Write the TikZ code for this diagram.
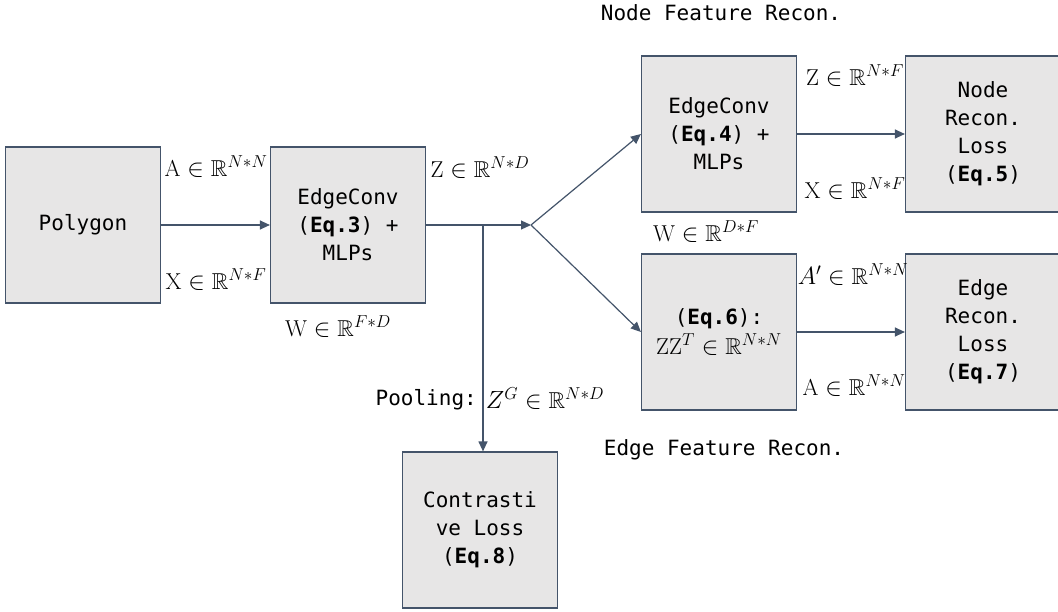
\documentclass[tikz,border=0pt]{standalone}
\usepackage{fontspec}
\setmonofont{DejaVu Sans Mono}
\usepackage{amssymb}
\usetikzlibrary{arrows.meta}
\definecolor{edgec}{HTML}{44546A}
\definecolor{boxfill}{HTML}{E7E6E6}
\begin{document}
\begin{tikzpicture}[x=1pt,y=-1pt,
  box/.style={draw=edgec, line width=1.2pt, fill=boxfill, minimum width=155pt, minimum height=156pt, inner sep=0pt, align=center, font=\ttfamily\fontsize{21}{28}\selectfont},
  arr/.style={draw=edgec, line width=1.2pt, -{Triangle[length=10pt,width=9pt]}},
  lab/.style={font=\fontsize{23}{26}\selectfont, inner sep=0pt},
  ttl/.style={font=\ttfamily\fontsize{21}{24}\selectfont, inner sep=0pt}]
\useasboundingbox[fill=white] (0,0) rectangle (1058,612);

\node[box] (poly) at (83,225) {Polygon};
\node[box] (e1) at (348,225) {EdgeConv\\(\textbf{Eq.3}) +\\MLPs};
\node[box] (e2) at (719,134) {EdgeConv\\(\textbf{Eq.4}) +\\MLPs};
\node[box] (nl) at (983,134) {Node\\Recon.\\Loss\\(\textbf{Eq.5})};
\node[box] (e6) at (719,332) {(\textbf{Eq.6}):\\[2pt]\fontsize{23}{26}\selectfont$\mathrm{ZZ}^{T}\in\mathbb{R}^{N*N}$};
\node[box] (el) at (983,332) {Edge\\Recon.\\Loss\\(\textbf{Eq.7})};
\node[box] (cl) at (480,530) {Contrasti\\ve Loss\\(\textbf{Eq.8})};

\node[lab] (la) at (216,167) {$\mathrm{A}\in\mathbb{R}^{N*N}$};
\node[lab] (lx) at (216,280) {$\mathrm{X}\in\mathbb{R}^{N*F}$};
\node[lab] (lw1) at (338,327) {$\mathrm{W}\in\mathbb{R}^{F*D}$};
\node[lab] (lz) at (480,168) {$\mathrm{Z}\in\mathbb{R}^{N*D}$};
\node[lab] (lz2) at (855,76) {$\mathrm{Z}\in\mathbb{R}^{N*F}$};
\node[lab] (lx2) at (855,189) {$\mathrm{X}\in\mathbb{R}^{N*F}$};
\node[lab] (lw2) at (706,232) {$\mathrm{W}\in\mathbb{R}^{D*F}$};
\node[lab] (la2) at (853,275) {$A'\in\mathbb{R}^{N*N}$};
\node[lab] (la3) at (854,386) {$\mathrm{A}\in\mathbb{R}^{N*N}$};
\node[ttl, anchor=east] (pool) at (477,400) {Pooling:};
\node[lab] (lzg) at (545,399) {$Z^{G}\in\mathbb{R}^{N*D}$};
\node[ttl] (nfr) at (721,13) {Node Feature Recon.};
\node[ttl] (efr) at (724,450) {Edge Feature Recon.};

\coordinate (j) at (531,225);
\coordinate (p) at (483,225);
\draw[arr] (poly) -- (e1);
\draw[arr] (e1.east) -- (j);
\draw[arr] (j) -- (e2.west);
\draw[arr] (j) -- (e6.west);
\draw[arr] (p) -- (p |- cl.north);
\draw[arr] (e2) -- (nl);
\draw[arr] (e6) -- (el);
\end{tikzpicture}
\end{document}
